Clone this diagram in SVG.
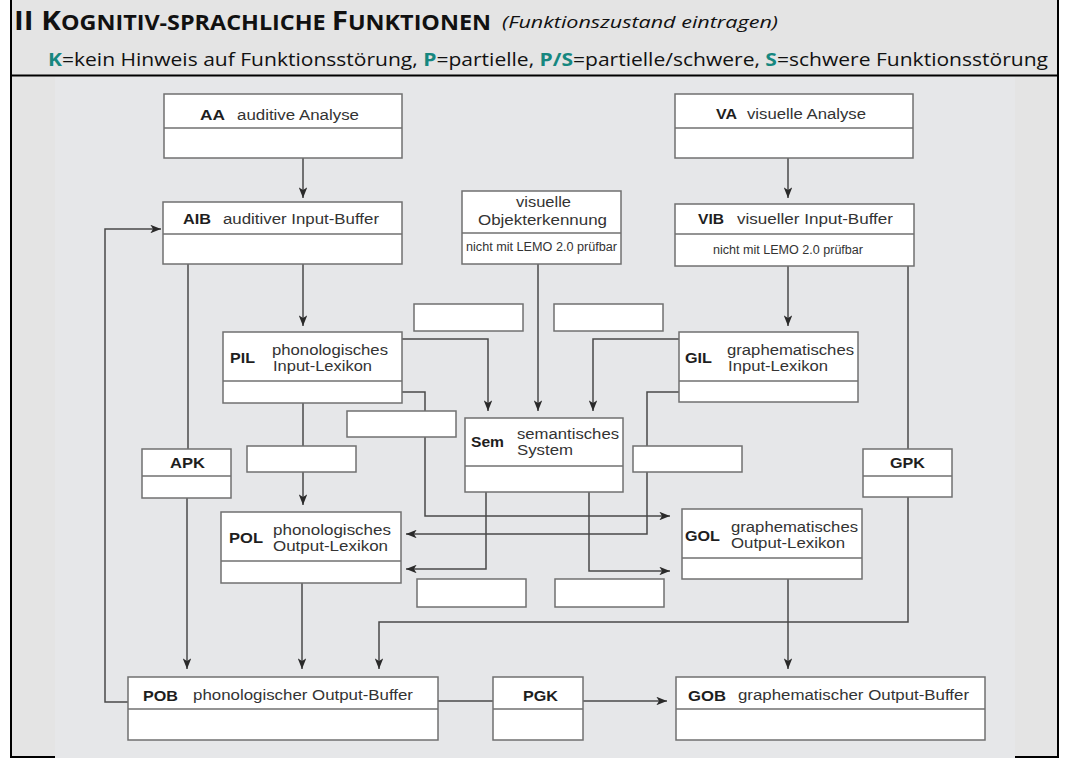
<svg xmlns="http://www.w3.org/2000/svg" width="1067" height="758" viewBox="0 0 1067 758">
<style>
.box{fill:#fff;stroke:#707070;stroke-width:1.5}
.dv{stroke:#707070;stroke-width:1.5}
.ln{fill:none;stroke:#4a4a4a;stroke-width:1.5}
.ab{font-family:"Liberation Sans",Arial,sans-serif;font-weight:bold;font-size:15.5px;fill:#1e1e1e}
.lb{font-family:"Liberation Sans",Arial,sans-serif;font-size:15.5px;fill:#333}
.sm{font-family:"Liberation Sans",Arial,sans-serif;font-size:12px;fill:#333}
.hd{font-family:"Open Sans","Noto Sans",sans-serif;fill:#111}
.tl{fill:#16877f;font-weight:bold}
</style>
<defs>
<marker id="ah" viewBox="0 0 10 8" markerWidth="11" markerHeight="8.5" refX="10" refY="4" orient="auto" markerUnits="userSpaceOnUse">
<path d="M0,0 L10,4 L0,8 L2.5,4 z" fill="#2a2a2a"/>
</marker>
</defs>
<rect x="0" y="0" width="1067" height="758" fill="#fff"/>
<rect x="10" y="0" width="1048" height="757" fill="#e4e4e4"/>
<rect x="55" y="77" width="960" height="681" fill="#e6e7e9"/>
<g id="frame" fill="none" stroke="#000">
<line x1="11" y1="0" x2="11" y2="758" stroke-width="2"/>
<line x1="1058" y1="0" x2="1058" y2="758" stroke-width="2"/>
<line x1="10" y1="75.5" x2="1059" y2="75.5" stroke-width="2"/>
<line x1="10" y1="757" x2="55" y2="757" stroke-width="2"/>
<line x1="1015" y1="757" x2="1059" y2="757" stroke-width="2"/>
</g>
<g id="header">
<text class="hd" x="14" y="30" font-weight="bold" textLength="477" lengthAdjust="spacingAndGlyphs"><tspan font-size="26">II K</tspan><tspan font-size="20.5">OGNITIV-SPRACHLICHE </tspan><tspan font-size="26">F</tspan><tspan font-size="20.5">UNKTIONEN</tspan></text>
<text class="hd" x="502" y="28" font-size="16" font-style="italic" textLength="276" lengthAdjust="spacingAndGlyphs">(Funktionszustand eintragen)</text>
<text class="hd" x="48" y="66" font-size="18.5" textLength="1000" lengthAdjust="spacingAndGlyphs"><tspan class="tl">K</tspan>=kein Hinweis auf Funktionsstörung, <tspan class="tl">P</tspan>=partielle, <tspan class="tl">P/S</tspan>=partielle/schwere, <tspan class="tl">S</tspan>=schwere Funktionsstörung</text>
</g>
<g id="connectors" class="ln">
<path d="M303,158 V198" marker-end="url(#ah)"/>
<path d="M788,158 V198" marker-end="url(#ah)"/>
<path d="M303,264 V326" marker-end="url(#ah)"/>
<path d="M788,266 V326" marker-end="url(#ah)"/>
<path d="M188,264 V449"/>
<path d="M187,498 V669" marker-end="url(#ah)"/>
<path d="M128,702 H105 V229 H161" marker-end="url(#ah)"/>
<path d="M538,264 V411" marker-end="url(#ah)"/>
<path d="M402,339 H488 V411" marker-end="url(#ah)"/>
<path d="M679,339 H593 V411" marker-end="url(#ah)"/>
<path d="M402,392 H425 V516 H670" marker-end="url(#ah)"/>
<path d="M679,392 H647 V534 H406" marker-end="url(#ah)"/>
<path d="M303,403 V446"/>
<path d="M303,472 V505" marker-end="url(#ah)"/>
<path d="M486,492 V569 H406" marker-end="url(#ah)"/>
<path d="M589,492 V571 H670" marker-end="url(#ah)"/>
<path d="M908,266 V449"/>
<path d="M908,497 V622 H379 V669" marker-end="url(#ah)"/>
<path d="M302,583 V669" marker-end="url(#ah)"/>
<path d="M788,579 V669" marker-end="url(#ah)"/>
<path d="M438,701 H493"/>
<path d="M583,701 H667" marker-end="url(#ah)"/>
</g>
<g id="AA">
<rect class="box" x="164" y="94" width="238" height="64"/>
<line class="dv" x1="164" y1="128" x2="402" y2="128"/>
<text class="ab" x="200" y="120" textLength="25" lengthAdjust="spacingAndGlyphs">AA</text>
<text class="lb" x="237" y="120" textLength="122" lengthAdjust="spacingAndGlyphs">auditive Analyse</text>
</g>
<g id="AIB">
<rect class="box" x="163" y="202" width="239" height="62"/>
<line class="dv" x1="163" y1="234" x2="402" y2="234"/>
<text class="ab" x="183" y="224" textLength="28" lengthAdjust="spacingAndGlyphs">AIB</text>
<text class="lb" x="223" y="224" textLength="156" lengthAdjust="spacingAndGlyphs">auditiver Input-Buffer</text>
</g>
<g id="VA">
<rect class="box" x="675" y="94" width="238" height="64"/>
<line class="dv" x1="675" y1="128" x2="913" y2="128"/>
<text class="ab" x="716" y="119" textLength="21" lengthAdjust="spacingAndGlyphs">VA</text>
<text class="lb" x="747" y="119" textLength="119" lengthAdjust="spacingAndGlyphs">visuelle Analyse</text>
</g>
<g id="VIB">
<rect class="box" x="675" y="204" width="239" height="62"/>
<line class="dv" x1="675" y1="234" x2="914" y2="234"/>
<text class="ab" x="698" y="224" textLength="26" lengthAdjust="spacingAndGlyphs">VIB</text>
<text class="lb" x="737" y="224" textLength="156" lengthAdjust="spacingAndGlyphs">visueller Input-Buffer</text>
<text class="sm" x="713" y="254" textLength="150" lengthAdjust="spacingAndGlyphs">nicht mit LEMO 2.0 prüfbar</text>
</g>
<g id="OBJ">
<rect class="box" x="462" y="191" width="159" height="73"/>
<line class="dv" x1="462" y1="233" x2="621" y2="233"/>
<text class="lb" x="516" y="207" textLength="55" lengthAdjust="spacingAndGlyphs">visuelle</text>
<text class="lb" x="478" y="225" textLength="129" lengthAdjust="spacingAndGlyphs">Objekterkennung</text>
<text class="sm" x="466" y="251" textLength="151" lengthAdjust="spacingAndGlyphs">nicht mit LEMO 2.0 prüfbar</text>
</g>
<g id="PIL">
<rect class="box" x="223" y="332" width="179" height="71"/>
<line class="dv" x1="223" y1="381" x2="402" y2="381"/>
<text class="ab" x="230" y="363" textLength="25" lengthAdjust="spacingAndGlyphs">PIL</text>
<text class="lb" x="272" y="355" textLength="116" lengthAdjust="spacingAndGlyphs">phonologisches</text>
<text class="lb" x="273" y="371" textLength="99" lengthAdjust="spacingAndGlyphs">Input-Lexikon</text>
</g>
<g id="GIL">
<rect class="box" x="679" y="332" width="179" height="70"/>
<line class="dv" x1="679" y1="381" x2="858" y2="381"/>
<text class="ab" x="685" y="363" textLength="27" lengthAdjust="spacingAndGlyphs">GIL</text>
<text class="lb" x="727" y="355" textLength="127" lengthAdjust="spacingAndGlyphs">graphematisches</text>
<text class="lb" x="728" y="371" textLength="100" lengthAdjust="spacingAndGlyphs">Input-Lexikon</text>
</g>
<g id="SEM">
<rect class="box" x="465" y="418" width="158" height="74"/>
<line class="dv" x1="465" y1="466" x2="623" y2="466"/>
<text class="ab" x="471" y="447" textLength="33" lengthAdjust="spacingAndGlyphs">Sem</text>
<text class="lb" x="517" y="439" textLength="102" lengthAdjust="spacingAndGlyphs">semantisches</text>
<text class="lb" x="517" y="455" textLength="56" lengthAdjust="spacingAndGlyphs">System</text>
</g>
<g id="APK">
<rect class="box" x="142" y="449" width="89" height="49"/>
<line class="dv" x1="142" y1="476" x2="231" y2="476"/>
<text class="ab" x="170" y="468" textLength="35" lengthAdjust="spacingAndGlyphs">APK</text>
</g>
<g id="GPK">
<rect class="box" x="863" y="449" width="89" height="48"/>
<line class="dv" x1="863" y1="476" x2="952" y2="476"/>
<text class="ab" x="890" y="468" textLength="35" lengthAdjust="spacingAndGlyphs">GPK</text>
</g>
<g id="POL">
<rect class="box" x="221" y="512" width="180" height="71"/>
<line class="dv" x1="221" y1="561" x2="401" y2="561"/>
<text class="ab" x="229" y="543" textLength="34" lengthAdjust="spacingAndGlyphs">POL</text>
<text class="lb" x="273" y="535" textLength="118" lengthAdjust="spacingAndGlyphs">phonologisches</text>
<text class="lb" x="273" y="551" textLength="115" lengthAdjust="spacingAndGlyphs">Output-Lexikon</text>
</g>
<g id="GOL">
<rect class="box" x="682" y="509" width="180" height="70"/>
<line class="dv" x1="682" y1="558" x2="862" y2="558"/>
<text class="ab" x="685" y="541" textLength="35" lengthAdjust="spacingAndGlyphs">GOL</text>
<text class="lb" x="731" y="532" textLength="127" lengthAdjust="spacingAndGlyphs">graphematisches</text>
<text class="lb" x="731" y="548" textLength="114" lengthAdjust="spacingAndGlyphs">Output-Lexikon</text>
</g>
<g id="POB">
<rect class="box" x="128" y="677" width="310" height="63"/>
<line class="dv" x1="128" y1="709" x2="438" y2="709"/>
<text class="ab" x="143" y="701" textLength="35" lengthAdjust="spacingAndGlyphs">POB</text>
<text class="lb" x="193" y="700" textLength="220" lengthAdjust="spacingAndGlyphs">phonologischer Output-Buffer</text>
</g>
<g id="PGK">
<rect class="box" x="493" y="677" width="90" height="63"/>
<line class="dv" x1="493" y1="709" x2="583" y2="709"/>
<text class="ab" x="523" y="701" textLength="35" lengthAdjust="spacingAndGlyphs">PGK</text>
</g>
<g id="GOB">
<rect class="box" x="676" y="677" width="309" height="63"/>
<line class="dv" x1="676" y1="709" x2="985" y2="709"/>
<text class="ab" x="688" y="701" textLength="38" lengthAdjust="spacingAndGlyphs">GOB</text>
<text class="lb" x="738" y="700" textLength="231" lengthAdjust="spacingAndGlyphs">graphematischer Output-Buffer</text>
</g>
<g id="field1"><rect class="box" x="414" y="304" width="109" height="27"/></g>
<g id="field2"><rect class="box" x="554" y="304" width="109" height="27"/></g>
<g id="field3"><rect class="box" x="347" y="411" width="109" height="26"/></g>
<g id="field4"><rect class="box" x="633" y="446" width="109" height="26"/></g>
<g id="field5"><rect class="box" x="247" y="446" width="109" height="26"/></g>
<g id="field6"><rect class="box" x="417" y="579" width="109" height="28"/></g>
<g id="field7"><rect class="box" x="555" y="579" width="109" height="28"/></g>
</svg>
